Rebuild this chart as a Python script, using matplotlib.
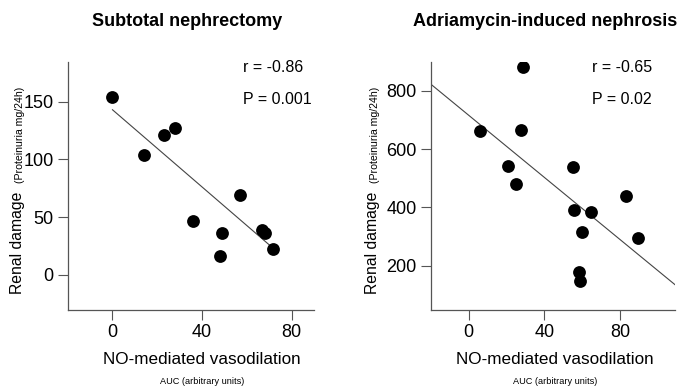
import numpy as np
import matplotlib
matplotlib.use("Agg")
import matplotlib.pyplot as plt

plt.rcParams["font.family"] = ["Liberation Sans", "DejaVu Sans"]

# Subtotal nephrectomy
snx_auc = [0, 14.0, 22.8, 27.9, 35.8, 49.0, 48.1, 56.9, 66.9, 68.2, 71.9]
snx_prot = [154, 104, 121, 127, 47, 36.7, 16.8, 69, 38.7, 36.7, 22.2]
snx_fit = [143, -1.67]          # intercept, slope
snx_stats = ["r = -0.86", "P = 0.001"]

# Adriamycin-induced nephrosis
adr_auc = [28.9, 6.0, 27.8, 20.8, 25.2, 54.9, 55.7, 64.6, 60.1, 83.2, 89.3, 58.2, 58.9]
adr_prot = [884, 663, 666, 544, 481, 540, 390, 386, 315, 440, 295, 178, 146]
adr_fit = [717, -5.34]
adr_stats = ["r = -0.65", "P = 0.02"]

W, H = 684, 387
fig = plt.figure(figsize=(W / 100, H / 100), dpi=100)


def px(x, y):
    return x / W, 1 - y / H


def panel(rect, xs, ys, fit, stats, xlim, ylim, yticks, full_line, stat_x, title, title_x, xl_x, yl_x):
    ax = fig.add_axes(rect)
    ax.scatter(xs, ys, s=85, color="black", zorder=3, linewidths=0)
    if full_line:
        lx = np.array(xlim, dtype=float)
    else:
        lx = np.array([min(xs), max(xs)], dtype=float)
    ax.plot(lx, fit[0] + fit[1] * lx, color="#444444", lw=0.8)
    ax.set_xlim(xlim)
    ax.set_ylim(ylim)
    ax.set_xticks([0, 40, 80])
    ax.set_yticks(yticks)
    for s in ["top", "right"]:
        ax.spines[s].set_visible(False)
    for s in ["left", "bottom"]:
        ax.spines[s].set_color("#555555")
        ax.spines[s].set_linewidth(0.9)
    ax.tick_params(length=7, width=0.8, color="#555555", labelsize=13, pad=3)
    ax.text(stat_x, px(0, 68)[1], stats[0], transform=fig.transFigure, fontsize=11.5, va="center")
    ax.text(stat_x, px(0, 100)[1], stats[1], transform=fig.transFigure, fontsize=11.5, va="center")

    fig.text(*px(title_x, 21), title, fontsize=13, fontweight="bold", ha="center", va="center")
    fig.text(*px(xl_x, 360), "NO-mediated vasodilation", fontsize=12.3, ha="center", va="center")
    fig.text(*px(xl_x, 381), "AUC (arbitrary units)", fontsize=6.6, ha="center", va="center")
    fig.text(*px(yl_x, 243), "Renal damage", fontsize=11.3, rotation=90, ha="center", va="center")
    fig.text(*px(yl_x + 2, 135), "(Proteinuria mg/24h)", fontsize=7.6, rotation=90,
             ha="center", va="center")
    return ax


panel([67.7 / W, 77 / H, 246.3 / W, 248.3 / H], snx_auc, snx_prot, snx_fit, snx_stats,
      (-20, 90), (-30.3, 184.6), [0, 50, 100, 150], False, 243 / W,
      "Subtotal nephrectomy", 187, 202, 18)

panel([430.7 / W, 77 / H, 244.3 / W, 248.3 / H], adr_auc, adr_prot, adr_fit, adr_stats,
      (-20, 109), (48, 900.6), [200, 400, 600, 800], True, 592 / W,
      "Adriamycin-induced nephrosis", 545, 555, 373)

fig.savefig("out.png", dpi=100)
